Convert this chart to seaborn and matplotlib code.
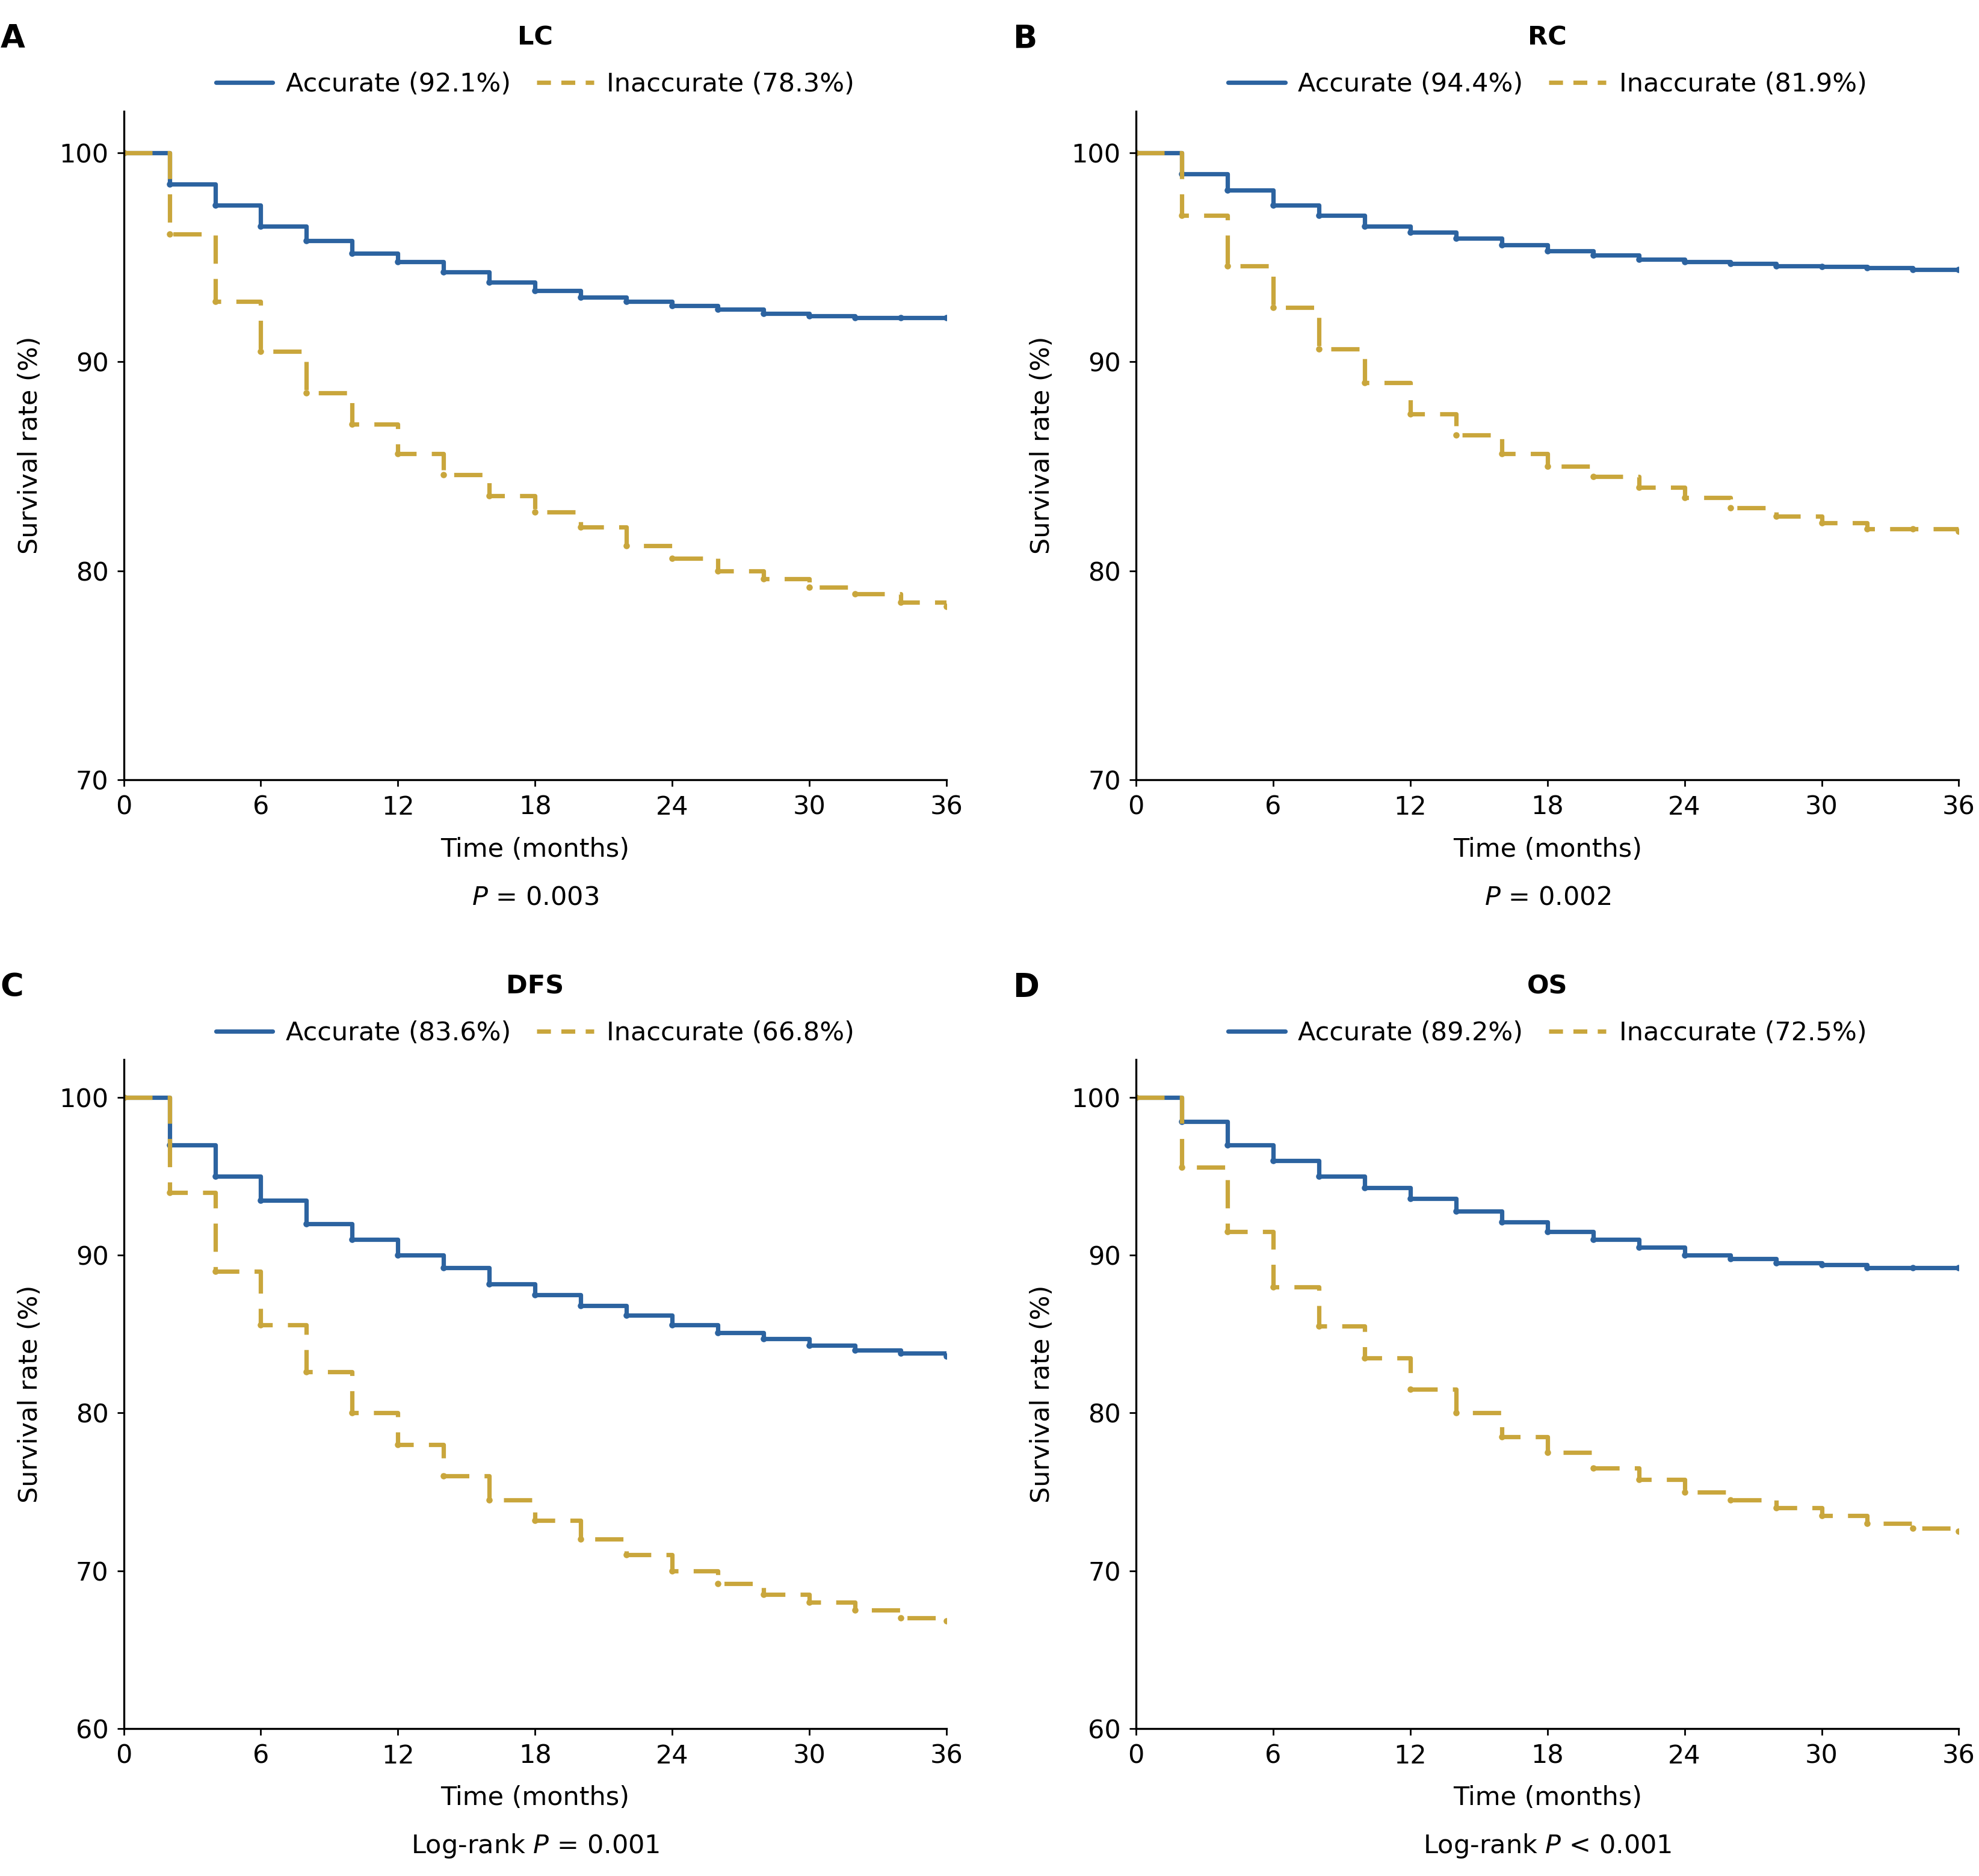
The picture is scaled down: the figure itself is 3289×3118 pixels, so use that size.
import numpy as np
import pandas as pd
import matplotlib
matplotlib.use("Agg")
import matplotlib.pyplot as plt
from matplotlib.lines import Line2D
import seaborn as sns

sns.set_theme(style="white")
plt.rcParams['font.family'] = ['DejaVu Sans']
plt.rcParams['text.color'] = 'black'
plt.rcParams['axes.labelcolor'] = 'black'
plt.rcParams['xtick.color'] = 'black'
plt.rcParams['ytick.color'] = 'black'

# ---------------- data ----------------
months = [0, 2, 4, 6, 8, 10, 12, 14, 16, 18, 20, 22, 24, 26, 28, 30, 32, 34, 36]

lc_accurate = [100, 98.5, 97.5, 96.5, 95.8, 95.2, 94.8, 94.3, 93.8, 93.4, 93.1, 92.9, 92.7, 92.5, 92.3, 92.2, 92.1, 92.1, 92.1]
lc_inaccurate = [100, 96.1, 92.9, 90.5, 88.5, 87.0, 85.6, 84.6, 83.6, 82.8, 82.1, 81.2, 80.6, 80.0, 79.6, 79.2, 78.9, 78.5, 78.3]

rc_accurate = [100, 99.0, 98.2, 97.5, 97.0, 96.5, 96.2, 95.9, 95.6, 95.3, 95.1, 94.9, 94.8, 94.7, 94.6, 94.55, 94.5, 94.4, 94.4]
rc_inaccurate = [100, 97.0, 94.6, 92.6, 90.6, 89.0, 87.5, 86.5, 85.6, 85.0, 84.5, 84.0, 83.5, 83.0, 82.6, 82.3, 82.0, 82.0, 81.9]

dfs_accurate = [100, 97.0, 95.0, 93.5, 92.0, 91.0, 90.0, 89.2, 88.2, 87.5, 86.8, 86.2, 85.6, 85.1, 84.7, 84.3, 84.0, 83.8, 83.6]
dfs_inaccurate = [100, 94.0, 89.0, 85.6, 82.6, 80.0, 78.0, 76.0, 74.5, 73.2, 72.0, 71.0, 70.0, 69.2, 68.5, 68.0, 67.5, 67.0, 66.8]

os_accurate = [100, 98.5, 97.0, 96.0, 95.0, 94.3, 93.6, 92.8, 92.1, 91.5, 91.0, 90.5, 90.0, 89.8, 89.5, 89.4, 89.2, 89.2, 89.2]
os_inaccurate = [100, 95.6, 91.5, 88.0, 85.5, 83.5, 81.5, 80.0, 78.5, 77.5, 76.5, 75.8, 75.0, 74.5, 74.0, 73.5, 73.0, 72.7, 72.5]

panel_letters = ["A", "B", "C", "D"]
panel_titles = ["LC", "RC", "DFS", "OS"]
acc_labels = ["Accurate (92.1%)", "Accurate (94.4%)", "Accurate (83.6%)", "Accurate (89.2%)"]
inacc_labels = ["Inaccurate (78.3%)", "Inaccurate (81.9%)", "Inaccurate (66.8%)", "Inaccurate (72.5%)"]
p_prefix = ["", "", "Log-rank ", "Log-rank "]
p_texts = [" = 0.003", " = 0.002", " = 0.001", " < 0.001"]
y_mins = [70, 70, 60, 60]
y_tops = [102, 102, 102.4, 102.4]
y_ticks = [[70, 80, 90, 100], [70, 80, 90, 100], [60, 70, 80, 90, 100], [60, 70, 80, 90, 100]]
x_ticks = [0, 6, 12, 18, 24, 30, 36]

series = [(lc_accurate, lc_inaccurate), (rc_accurate, rc_inaccurate),
          (dfs_accurate, dfs_inaccurate), (os_accurate, os_inaccurate)]

BLUE = "#2C63A0"
GOLD = "#C9A63C"
FS = 15.5

W, H = 3289, 3118
fig = plt.figure(figsize=(W / 200, H / 200), dpi=200)

dw, dh = 1568, 1487
rects = []
for (l, r, t, b) in [(98, 750, 88, 618), (900, 1552, 88, 618),
                     (98, 750, 840, 1370), (900, 1552, 840, 1370)]:
    rects.append([l / dw, 1 - b / dh, (r - l) / dw, (b - t) / dh])

for i in range(4):
    ax = fig.add_axes(rects[i])
    acc, inacc = series[i]
    df = pd.DataFrame({
        "time": months * 2,
        "surv": acc + inacc,
        "group": [acc_labels[i]] * len(months) + [inacc_labels[i]] * len(months),
    })
    sns.lineplot(data=df[df.group == acc_labels[i]], x="time", y="surv", ax=ax,
                 color=BLUE, linewidth=2.6, drawstyle="steps-post",
                 marker="o", markersize=3.8, markeredgewidth=0, legend=False)
    sns.lineplot(data=df[df.group == inacc_labels[i]], x="time", y="surv", ax=ax,
                 color=GOLD, linewidth=2.6, drawstyle="steps-post",
                 linestyle=(0, (6.5, 3.5)), marker="o", markersize=3.8,
                 markeredgewidth=0, legend=False)

    ax.set_xlim(0, 36)
    ax.set_ylim(y_mins[i], y_tops[i])
    ax.set_xticks(x_ticks)
    ax.set_yticks(y_ticks[i])
    ax.tick_params(axis="both", direction="out", length=4, width=1.0,
                   labelsize=FS, colors="black", pad=5, left=True, bottom=True)
    for s in ["top", "right"]:
        ax.spines[s].set_visible(False)
    for s in ["left", "bottom"]:
        ax.spines[s].set_color("black")
        ax.spines[s].set_linewidth(1.2)
    ax.set_xlabel("Time (months)", fontsize=FS, labelpad=10)
    ax.set_ylabel("Survival rate (%)", fontsize=FS, labelpad=10)
    ax.grid(False)

    handles = [Line2D([], [], color=BLUE, lw=2.6),
               Line2D([], [], color=GOLD, lw=2.6, linestyle=(0, (3.2, 2.4)))]
    ax.legend(handles, [acc_labels[i], inacc_labels[i]], loc="center",
              bbox_to_anchor=(0.5, 1.04), ncol=2, frameon=False, fontsize=FS,
              handlelength=2.2, columnspacing=1.0, handletextpad=0.5, borderpad=0)
    ax.text(0.5, 1.11, panel_titles[i], transform=ax.transAxes, ha="center",
            va="center", fontsize=FS, fontweight="bold")
    ax.text(-0.150, 1.108, panel_letters[i], transform=ax.transAxes, ha="left",
            va="center", fontsize=19, fontweight="bold")
    ax.text(0.5, -0.176, p_prefix[i] + r"$\it{P}$" + p_texts[i], transform=ax.transAxes,
            ha="center", va="center", fontsize=FS)

fig.savefig("out.png", dpi=200, facecolor="white")
